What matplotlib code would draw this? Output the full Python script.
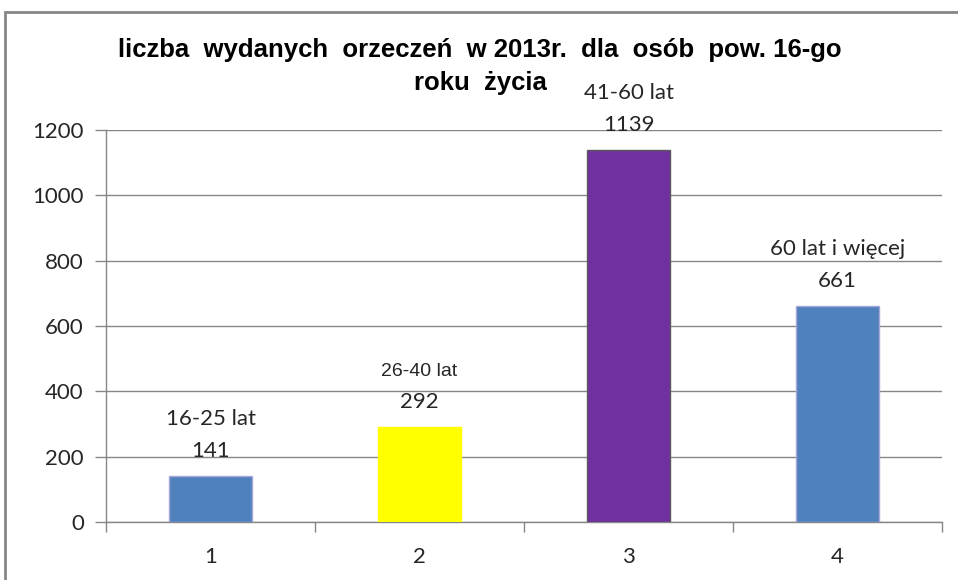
import matplotlib
matplotlib.use('Agg')
import matplotlib.pyplot as plt
from matplotlib.patches import Rectangle
from matplotlib import font_manager

categories = [1, 2, 3, 4]
values = [141, 292, 1139, 661]
group_labels = ['16-25 lat', '26-40 lat', '41-60 lat', '60 lat i więcej']
bar_colors = ['#4F81BD', '#FFFF00', '#7030A0', '#4F81BD']
edge_colors = ['#A6A6D8', '#FFFF00', '#595959', '#A6A6D8']
y_ticks = [0, 200, 400, 600, 800, 1000, 1200]
title_lines = ['liczba  wydanych  orzeczeń  w 2013r.  dla  osób  pow. 16-go', 'roku  życia']

names = {f.name for f in font_manager.fontManager.ttflist}
narrow = 'Liberation Sans Narrow' if 'Liberation Sans Narrow' in names else 'Liberation Sans'
body = ['Lato', 'DejaVu Sans']

fig = plt.figure(figsize=(9.58, 5.80), dpi=100)
ax = fig.add_axes([106 / 958, 58 / 580, 836 / 958, 392 / 580])

ax.bar(categories, values, width=0.4, color=bar_colors, edgecolor=edge_colors,
       linewidth=1, zorder=3)

for x, v, lab in zip(categories, values, group_labels):
    ax.annotate(str(v), (x, v), xytext=(0, 18), textcoords='offset points',
                ha='center', va='center', fontsize=16, family=body, color='#262626')
    if x == 2:
        ax.annotate(lab, (x, v), xytext=(0, 40), textcoords='offset points',
                    ha='center', va='center', fontsize=14, family=narrow, color='#262626')
    else:
        ax.annotate(lab, (x, v), xytext=(0, 41), textcoords='offset points',
                    ha='center', va='center', fontsize=16, family=body, color='#262626')

ax.set_xlim(0.5, 4.5)
ax.set_ylim(0, 1200)
ax.set_yticks(y_ticks)
ax.set_xticks(categories)
ax.set_xticks([0.5, 1.5, 2.5, 3.5, 4.5], minor=True)
ax.tick_params(axis='x', which='major', length=0, pad=18, labelsize=16, labelcolor='#262626')
ax.tick_params(axis='x', which='minor', length=7, width=1, color='#868686', direction='out')
ax.tick_params(axis='y', length=8, width=1, color='#868686', pad=8, labelsize=16, labelcolor='#262626')
for lbl in ax.get_xticklabels() + ax.get_yticklabels():
    lbl.set_family(body)

ax.grid(axis='y', color='#868686', linewidth=1, zorder=0)
ax.set_axisbelow(True)
for side in ['top', 'right']:
    ax.spines[side].set_visible(False)
for side in ['left', 'bottom']:
    ax.spines[side].set_color('#868686')
    ax.spines[side].set_linewidth(1)

for i, line in enumerate(title_lines):
    fig.text(480 / 958, 1 - (50 + 33 * i) / 580, line, ha='center', va='center',
             fontsize=18.5, fontweight='bold', family=[narrow, 'DejaVu Sans'])

fig.patches.append(Rectangle((5 / 958, -0.05), 1.1, 1 - 12 / 580 + 0.05,
                             transform=fig.transFigure, fill=False,
                             edgecolor='#868686', linewidth=2))

fig.savefig('out.png', dpi=100)
